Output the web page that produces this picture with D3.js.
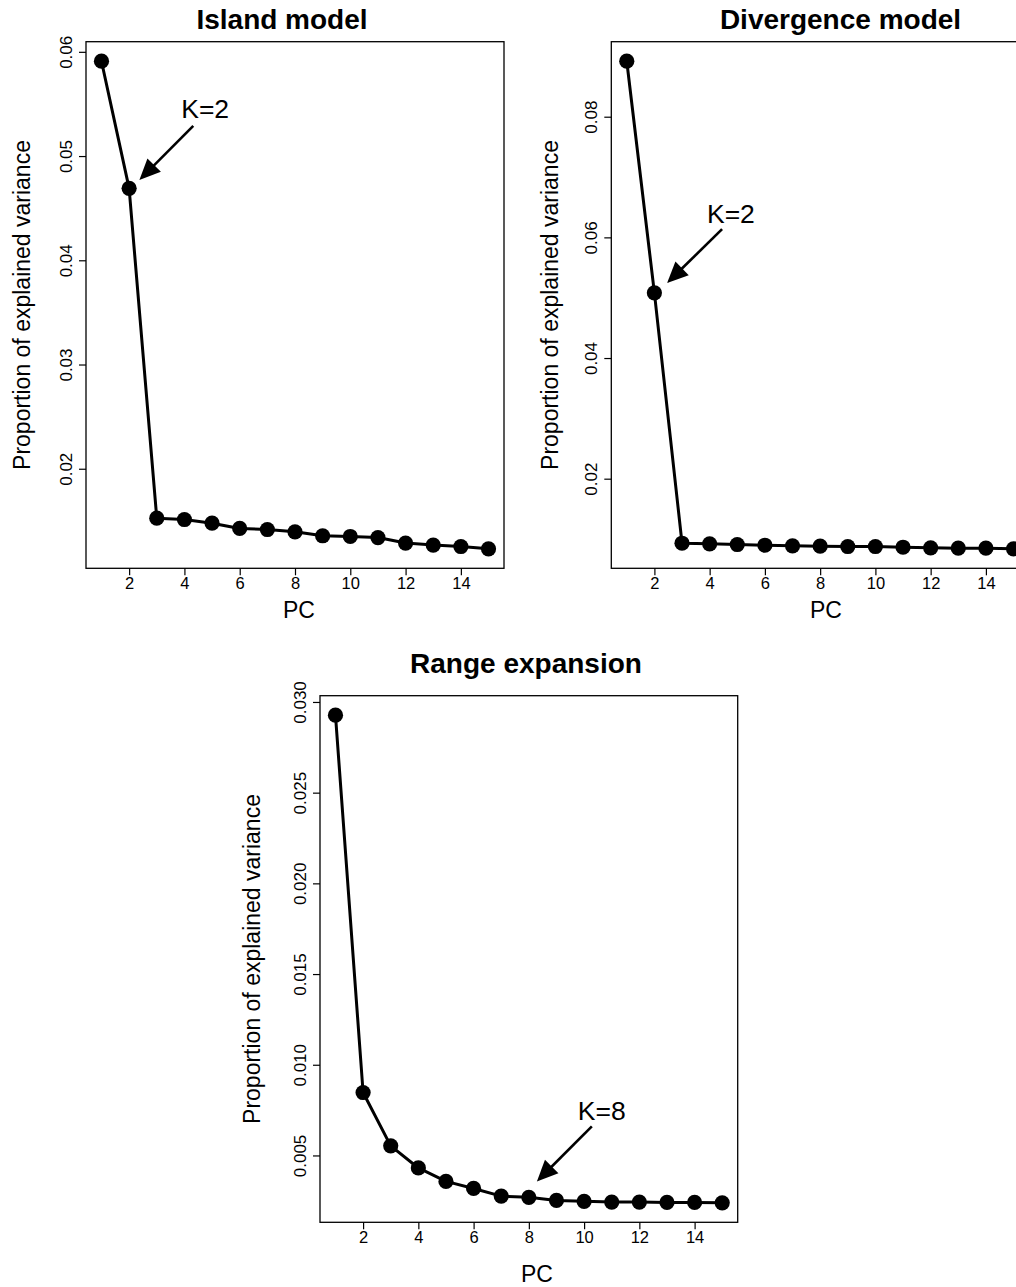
<!DOCTYPE html>
<html><head><meta charset="utf-8">
<script src="https://cdn.jsdelivr.net/npm/d3@7"></script>
<style>
body{margin:0;background:#fff}
svg{display:block}
text{font-family:"Liberation Sans",Arial,Helvetica,sans-serif;fill:#000}
</style>
</head><body>
<svg id="c" width="1016" height="1287"></svg>
<script>
// ---------- data ----------
const pcs = [1,2,3,4,5,6,7,8,9,10,11,12,13,14,15];
const islandValues = [0.0591,0.0469,0.01526,0.01513,0.01478,0.01427,0.01417,0.01395,0.01357,0.0135,0.0134,0.01287,0.01268,0.01254,0.01232];
const divergenceValues = [0.0892,0.0508,0.0093,0.0092,0.00909,0.00897,0.00887,0.00881,0.00876,0.00876,0.00864,0.00854,0.00848,0.00848,0.00838];
const rangeValues = [0.02927,0.00847,0.00553,0.00431,0.00357,0.00318,0.00276,0.00269,0.00252,0.00247,0.00243,0.00243,0.00241,0.00241,0.00239];
const islandTicks = [0.02,0.03,0.04,0.05,0.06];
const divergenceTicks = [0.02,0.04,0.06,0.08];
const rangeTicks = [0.005,0.010,0.015,0.020,0.025,0.030];
const xTicks = [2,4,6,8,10,12,14];
const titles = ["Island model","Divergence model","Range expansion"];
const xLabel = "PC";
const yLabel = "Proportion of explained variance";
// annotation: label position and arrow tail/tip, in data units
const islandNote = {label:"K=2", lx:4.75, ly:0.05364, x1:4.32, y1:0.0529, x2:2.37, y2:0.0477};
const divergenceNote = {label:"K=2", lx:4.77, ly:0.0624, x1:4.45, y1:0.06136, x2:2.46, y2:0.05242};
const rangeNote = {label:"K=8", lx:10.64, ly:0.00697, x1:10.28, y1:0.0066, x2:8.29, y2:0.00357};

// ---------- layout ----------
const panels = [
  {title:titles[0], values:islandValues, yTicks:islandTicks, fmt:d3.format(".2f"), note:islandNote,
   box:{l:86,t:41.7,r:504,b:568.3}, titleX:282, titleY:29.3, pcX:299, pcY:618, yTitleX:30},
  {title:titles[1], values:divergenceValues, yTicks:divergenceTicks, fmt:d3.format(".2f"), note:divergenceNote,
   box:{l:611.3,t:41.7,r:1029,b:568.3}, titleX:840.5, titleY:29.3, pcX:826, pcY:618, yTitleX:558},
  {title:titles[2], values:rangeValues, yTicks:rangeTicks, fmt:d3.format(".3f"), note:rangeNote,
   box:{l:320,t:695.7,r:737.7,b:1222.3}, titleX:526, titleY:673, pcX:537, pcY:1281.7, yTitleX:260}
];

const svg = d3.select("#c");
svg.append("rect").attr("width",1016).attr("height",1287).attr("fill","#fff");

function pad(ext){ const d=(ext[1]-ext[0])*0.04; return [ext[0]-d, ext[1]+d]; }

panels.forEach(p=>{
  const g = svg.append("g");
  const b = p.box;
  const x = d3.scaleLinear().domain(pad(d3.extent(pcs))).range([b.l,b.r]);
  const y = d3.scaleLinear().domain(pad(d3.extent(p.values))).range([b.b,b.t]);

  // box
  g.append("rect").attr("x",b.l).attr("y",b.t).attr("width",b.r-b.l).attr("height",b.b-b.t)
    .attr("fill","none").attr("stroke","#000").attr("stroke-width",1.3);

  // x axis
  const xa = g.append("g").attr("transform",`translate(0,${b.b})`)
    .call(d3.axisBottom(x).tickValues(xTicks).tickSize(7).tickPadding(2.3).tickFormat(d3.format("d")));
  xa.select(".domain").remove();
  xa.selectAll(".tick line").attr("stroke","#000").attr("stroke-width",1.2);
  xa.selectAll(".tick text").attr("font-size",16.5).attr("font-family","Liberation Sans, Arial, sans-serif").attr("fill","#000");

  // y axis
  const ya = g.append("g").attr("transform",`translate(${b.l},0)`)
    .call(d3.axisLeft(y).tickValues(p.yTicks).tickSize(7).tickFormat(p.fmt));
  ya.select(".domain").remove();
  ya.selectAll(".tick line").attr("stroke","#000").attr("stroke-width",1.2);
  ya.selectAll(".tick text").attr("x",null).attr("y",null).attr("dy",null)
    .attr("text-anchor","middle").attr("transform","translate(-14,0) rotate(-90)")
    .attr("font-size",17).attr("font-family","Liberation Sans, Arial, sans-serif").attr("fill","#000");

  // titles
  g.append("text").attr("x",p.titleX).attr("y",p.titleY).attr("text-anchor","middle")
    .attr("font-size",28).attr("font-weight","bold").text(p.title);
  g.append("text").attr("x",p.pcX).attr("y",p.pcY).attr("text-anchor","middle")
    .attr("font-size",23).text(xLabel);
  g.append("text").attr("transform",`translate(${p.yTitleX},${(b.t+b.b)/2}) rotate(-90)`)
    .attr("text-anchor","middle").attr("font-size",23).text(yLabel);

  // line + points
  const data = pcs.map((k,i)=>({k, v:p.values[i]}));
  g.append("path").datum(data)
    .attr("d", d3.line().x(d=>x(d.k)).y(d=>y(d.v)))
    .attr("fill","none").attr("stroke","#000").attr("stroke-width",3).attr("stroke-linejoin","round");
  g.selectAll("circle.pt").data(data).join("circle").attr("class","pt")
    .attr("cx",d=>x(d.k)).attr("cy",d=>y(d.v)).attr("r",7.6).attr("fill","#000");

  // annotation
  const n = p.note;
  g.append("text").attr("x",x(n.lx)).attr("y",y(n.ly)).attr("text-anchor","middle")
    .attr("font-size",26.5).text(n.label);
  const tx=x(n.x1), ty=y(n.y1), hx=x(n.x2), hy=y(n.y2);
  const ang = Math.atan2(hy-ty, hx-tx);
  const L = 21, W = 9.5;
  const bx = hx - L*Math.cos(ang), by = hy - L*Math.sin(ang);
  g.append("line").attr("x1",tx).attr("y1",ty).attr("x2",bx+2*Math.cos(ang)).attr("y2",by+2*Math.sin(ang))
    .attr("stroke","#000").attr("stroke-width",2.6);
  const px = -Math.sin(ang), py = Math.cos(ang);
  g.append("path").attr("d",`M${hx},${hy}L${bx+W*px},${by+W*py}L${bx-W*px},${by-W*py}Z`).attr("fill","#000");
});
</script>
</body></html>
